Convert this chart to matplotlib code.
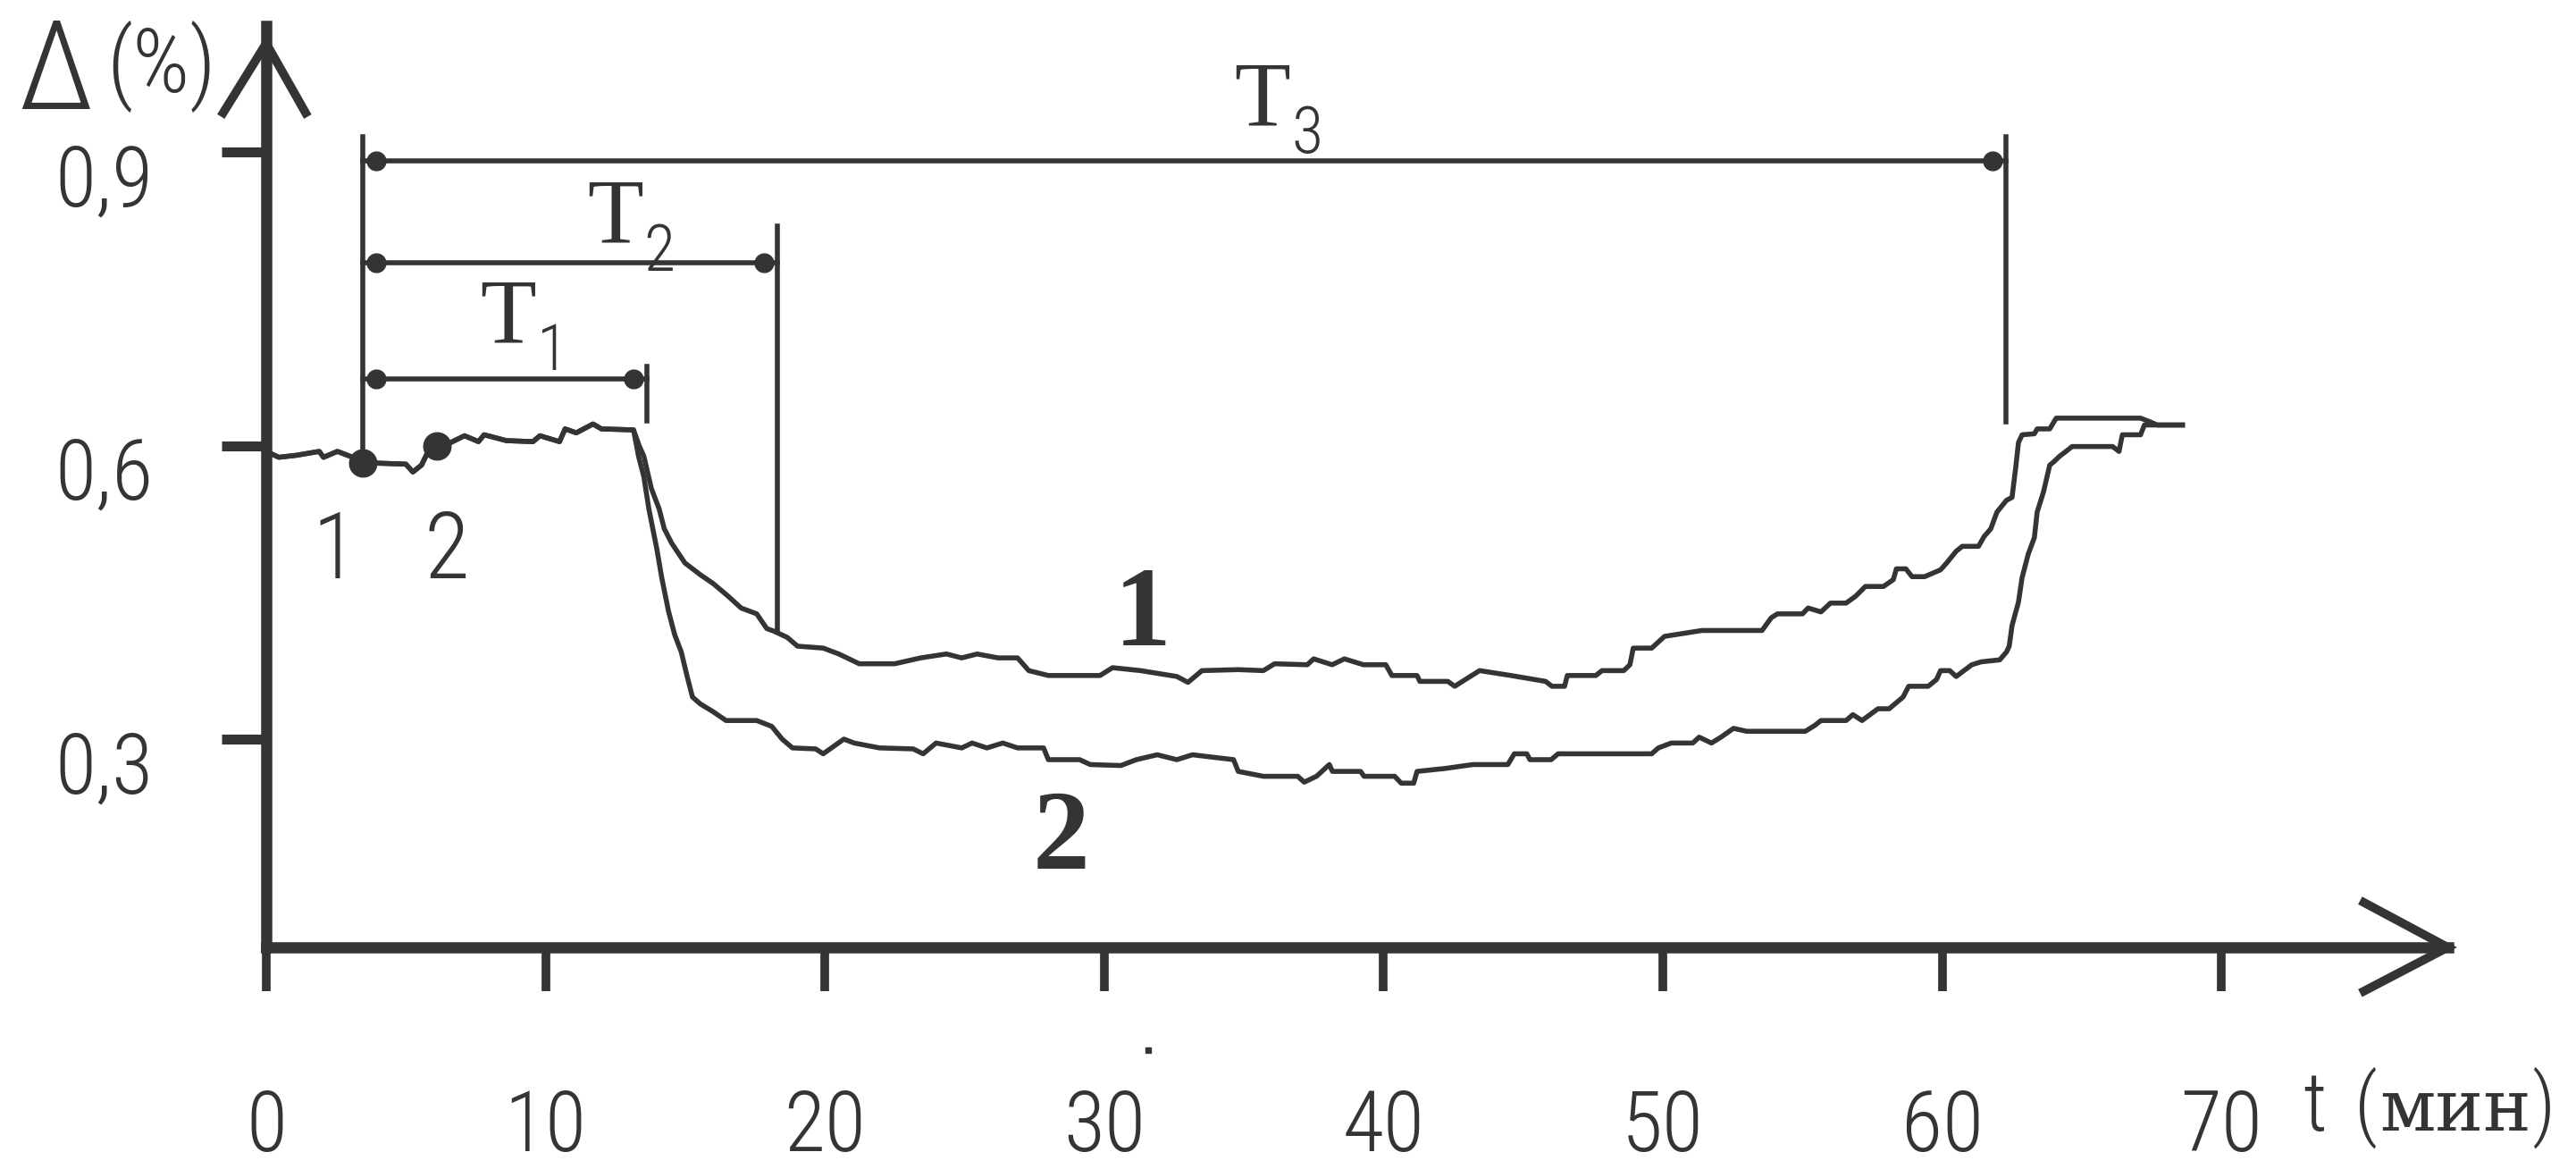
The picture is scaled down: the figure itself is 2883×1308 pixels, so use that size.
import matplotlib
matplotlib.use("Agg")
import matplotlib.pyplot as plt
from matplotlib import font_manager
from matplotlib.transforms import ScaledTranslation

# shared part of both records, t (min) / delta (%)
start_t = [0.0, 0.45, 1.07, 1.9, 2.05, 2.55, 3.1, 3.47, 4.0, 5.0, 5.25, 5.56, 5.9, 6.6,
           7.1, 7.6, 7.8, 8.6, 9.55, 9.8, 10.5, 10.7, 11.1, 11.7, 12.0, 13.15]
start_v = [0.594, 0.588, 0.590, 0.594, 0.588, 0.594, 0.588, 0.582, 0.582, 0.581, 0.573, 0.580,
           0.600, 0.603, 0.610, 0.604, 0.611, 0.605, 0.604, 0.610, 0.604, 0.617, 0.613, 0.622,
           0.617, 0.616]

curve1_t = [13.35, 13.52, 13.79, 14.07, 14.25, 14.52, 14.99, 15.54, 16.0, 16.54, 17.0, 17.56,
            17.92, 18.2, 18.65, 19.02, 19.94, 20.5, 21.23, 22.5, 23.43, 24.35, 24.9, 25.45,
            26.2, 26.9, 27.3, 28.0, 29.85, 30.3, 31.3, 32.6, 33.0, 33.5, 34.8, 35.7, 36.1,
            37.27, 37.5, 38.16, 38.6, 39.28, 40.08, 40.3, 41.2, 41.3, 42.3, 42.55, 42.88,
            43.44, 44.56, 45.8, 46.03, 46.48, 46.58, 47.6, 47.82, 48.6, 48.82, 48.94, 49.6,
            50.06, 51.4, 53.55, 53.88, 54.1, 55.0, 55.2, 55.66, 56.0, 56.56, 56.9, 57.25,
            57.9, 58.25, 58.36, 58.7, 58.92, 59.37, 59.94, 60.16, 60.5, 60.72, 61.3, 61.5,
            61.74, 61.96, 62.3, 62.5, 62.63, 62.73, 62.86, 63.3, 63.4, 63.85, 64.08, 67.1,
            67.46, 67.7, 68.6]
curve1_v = [0.600, 0.589, 0.556, 0.535, 0.515, 0.500, 0.480, 0.468, 0.459, 0.446, 0.434, 0.428,
            0.413, 0.410, 0.404, 0.395, 0.393, 0.387, 0.377, 0.377, 0.383, 0.387, 0.383, 0.387,
            0.383, 0.383, 0.370, 0.365, 0.365, 0.373, 0.370, 0.364, 0.358, 0.370, 0.371, 0.370,
            0.377, 0.376, 0.382, 0.376, 0.382, 0.376, 0.376, 0.365, 0.365, 0.359, 0.359, 0.354,
            0.360, 0.370, 0.365, 0.359, 0.354, 0.354, 0.365, 0.365, 0.370, 0.370, 0.376, 0.393,
            0.393, 0.405, 0.411, 0.411, 0.424, 0.428, 0.428, 0.434, 0.430, 0.439, 0.439, 0.446,
            0.456, 0.456, 0.463, 0.474, 0.474, 0.466, 0.466, 0.473, 0.480, 0.492, 0.497, 0.497,
            0.507, 0.515, 0.532, 0.544, 0.547, 0.577, 0.603, 0.611, 0.612, 0.617, 0.617, 0.628,
            0.628, 0.624, 0.621, 0.621]

curve2_t = [13.33, 13.52, 13.70, 13.98, 14.16, 14.40, 14.62, 14.86, 15.07, 15.26, 15.54, 16.0,
            16.46, 17.56, 18.1, 18.47, 18.84, 19.67, 19.94, 20.68, 21.05, 21.96, 23.16, 23.52,
            23.98, 24.9, 25.27, 25.8, 26.37, 26.9, 27.83, 28.0, 29.12, 29.5, 30.6, 31.15, 31.9,
            32.6, 33.16, 34.63, 34.8, 35.7, 36.93, 37.16, 37.6, 38.06, 38.17, 39.18, 39.3, 40.4,
            40.63, 41.08, 41.2, 42.2, 43.2, 44.45, 44.68, 45.13, 45.24, 46.0, 46.25, 49.6,
            49.84, 50.3, 51.07, 51.3, 51.74, 52.08, 52.53, 53.0, 55.1, 55.44, 55.66, 56.56,
            56.8, 57.13, 57.7, 58.1, 58.6, 58.8, 59.5, 59.8, 59.94, 60.27, 60.5, 61.06, 61.4,
            62.06, 62.3, 62.4, 62.5, 62.73, 62.86, 63.08, 63.3, 63.4, 63.63, 63.85, 63.98,
            64.2, 64.43, 64.65, 66.1, 66.33, 66.45, 67.1, 67.24, 68.6]
curve2_v = [0.589, 0.568, 0.535, 0.495, 0.465, 0.431, 0.407, 0.389, 0.364, 0.343, 0.336, 0.328,
            0.319, 0.319, 0.313, 0.300, 0.291, 0.290, 0.285, 0.300, 0.296, 0.291, 0.290, 0.285,
            0.296, 0.291, 0.296, 0.291, 0.296, 0.291, 0.291, 0.279, 0.279, 0.274, 0.273, 0.279,
            0.284, 0.279, 0.284, 0.279, 0.267, 0.262, 0.262, 0.256, 0.262, 0.274, 0.267, 0.267,
            0.262, 0.262, 0.255, 0.255, 0.267, 0.270, 0.274, 0.274, 0.285, 0.285, 0.279, 0.279,
            0.285, 0.285, 0.291, 0.296, 0.296, 0.302, 0.296, 0.302, 0.311, 0.308, 0.308, 0.314,
            0.319, 0.319, 0.325, 0.319, 0.331, 0.331, 0.343, 0.354, 0.354, 0.361, 0.370, 0.370,
            0.364, 0.376, 0.379, 0.381, 0.389, 0.395, 0.416, 0.440, 0.465, 0.489, 0.506, 0.532,
            0.553, 0.580, 0.583, 0.589, 0.594, 0.599, 0.599, 0.594, 0.611, 0.611, 0.621, 0.621]

# points marked "1" and "2" on the start of the records
mark_t = [3.47, 6.1]
mark_v = [0.582, 0.600]

x_ticks = [0, 10, 20, 30, 40, 50, 60, 70]
y_ticks = [0.3, 0.6, 0.9]
y_tick_labels = ["0,3", "0,6", "0,9"]

# time intervals T1..T3
t_begin = 3.47
t_end = [13.64, 18.29, 62.28]
t_level = [0.668, 0.787, 0.891]
t_names = ["1", "2", "3"]
t_end_top = [0.681, 0.824, 0.916]
t_end_bottom = [0.625, 0.410, 0.624]
t_label_x = [8.67, 12.48, 35.67]
t_label_y = [0.705, 0.807, 0.927]

ink = "#353333"

# the scan uses a thin narrow face; take the narrowest one that is installed
installed = {f.name for f in font_manager.fontManager.ttflist}
narrow_name = "DejaVu Sans"
for name in ["Liberation Sans Narrow", "Roboto Condensed", "Open Sans Condensed",
             "Noto Sans Condensed", "DejaVu Sans Condensed"]:
    if name in installed:
        narrow_name = name
        break
has_condensed = any(f.name == narrow_name and f.stretch == "condensed"
                    for f in font_manager.fontManager.ttflist)
narrow = dict(family=[narrow_name, "DejaVu Sans"], fontweight="light",
              stretch="condensed" if has_condensed else "normal")
serif = ["Liberation Serif", "DejaVu Serif"]

fig = plt.figure(figsize=(28.83, 13.08), dpi=100)
ax = fig.add_axes([0, 0, 1, 1])
ax.set_xlim(-9.53, 82.69)
ax.set_ylim(-0.1393, 1.0553)
ax.patch.set_alpha(0)

x_axis_y = 0.0872
for side in ["top", "right"]:
    ax.spines[side].set_visible(False)
ax.spines["left"].set_position(("data", 0))
ax.spines["left"].set_bounds(x_axis_y, 1.029)
ax.spines["bottom"].set_position(("data", x_axis_y))
ax.spines["bottom"].set_bounds(0, 78.1)
for side in ["left", "bottom"]:
    ax.spines[side].set_linewidth(9)
    ax.spines[side].set_color(ink)

# arrow heads of the axes
ax.plot([-1.54, 0, 1.41], [0.940, 1.011, 0.940], color=ink, lw=7, solid_joinstyle="miter")
ax.plot([75.1, 78.1, 75.1], [0.133, x_axis_y, 0.0425], color=ink, lw=7, solid_joinstyle="miter")

ax.set_xticks(x_ticks)
ax.set_xticklabels([str(x) for x in x_ticks])
ax.set_yticks(y_ticks)
ax.set_yticklabels(y_tick_labels)
ax.tick_params(axis="x", direction="out", length=35, width=7, color=ink, pad=78,
               labelsize=68, labelcolor=ink)
ax.tick_params(axis="y", direction="out", length=36, width=8, color=ink, pad=55,
               labelsize=68, labelcolor=ink)
for lbl in ax.get_xticklabels() + ax.get_yticklabels():
    lbl.set_family(narrow["family"])
    lbl.set_stretch(narrow["stretch"])
    lbl.set_fontweight("light")
for lbl in ax.get_yticklabels():
    lbl.set_transform(lbl.get_transform() + ScaledTranslation(0, -0.25, fig.dpi_scale_trans))

# the two records
ax.plot(start_t + curve1_t, start_v + curve1_v, color=ink, lw=4)
ax.plot(start_t + curve2_t, start_v + curve2_v, color=ink, lw=4)
ax.plot(mark_t[:1], mark_v[:1], "o", color=ink, ms=22)
ax.plot(mark_t[1:], mark_v[1:], "o", color=ink, ms=22)

# interval marks
ax.plot([t_begin, t_begin], [0.916, 0.585], color=ink, lw=4)
for end, level, top, bottom in zip(t_end, t_level, t_end_top, t_end_bottom):
    ax.plot([end, end], [top, bottom], color=ink, lw=4)
    ax.plot([t_begin, end], [level, level], color=ink, lw=4)
    ax.plot([t_begin + 0.48, end - 0.48], [level, level], "o", color=ink, ms=15)
for name, lx, ly in zip(t_names, t_label_x, t_label_y):
    ax.text(lx, ly, "T", family=serif, fontsize=74, ha="center", va="baseline", color=ink)
    ax.text(lx + 1.6, ly - 0.028, name, fontsize=52, ha="center", va="baseline",
            color=ink, **narrow)

# curve numbers
ax.text(2.46, 0.464, "1", fontsize=75, ha="center", va="baseline", color=ink, **narrow)
ax.text(6.46, 0.464, "2", fontsize=75, ha="center", va="baseline", color=ink, **narrow)
ax.text(31.38, 0.396, "1", family=serif, fontweight="bold", fontsize=92,
        ha="center", va="baseline", color=ink)
ax.text(28.47, 0.168, "2", family=serif, fontweight="bold", fontsize=92,
        ha="center", va="baseline", color=ink)

# axis names
ax.text(-7.55, 0.944, "\u0394", fontsize=100, ha="center", va="baseline", color=ink, **narrow)
ax.text(-3.75, 0.961, "(%)", fontsize=72, ha="center", va="baseline", color=ink, **narrow)
ax.text(73.35, -0.100, "t", fontsize=66, ha="center", va="baseline", color=ink, **narrow)
ax.text(75.18, -0.100, "(", fontsize=64, ha="center", va="baseline", color=ink, **narrow)
ax.text(78.36, -0.100, "мин", family="DejaVu Serif", fontsize=58,
        ha="center", va="baseline", color=ink)
ax.text(81.54, -0.100, ")", fontsize=64, ha="center", va="baseline", color=ink, **narrow)
ax.plot([31.57], [-0.018], "s", color=ink, ms=4)

fig.savefig("out.png", dpi=100, facecolor="white")
